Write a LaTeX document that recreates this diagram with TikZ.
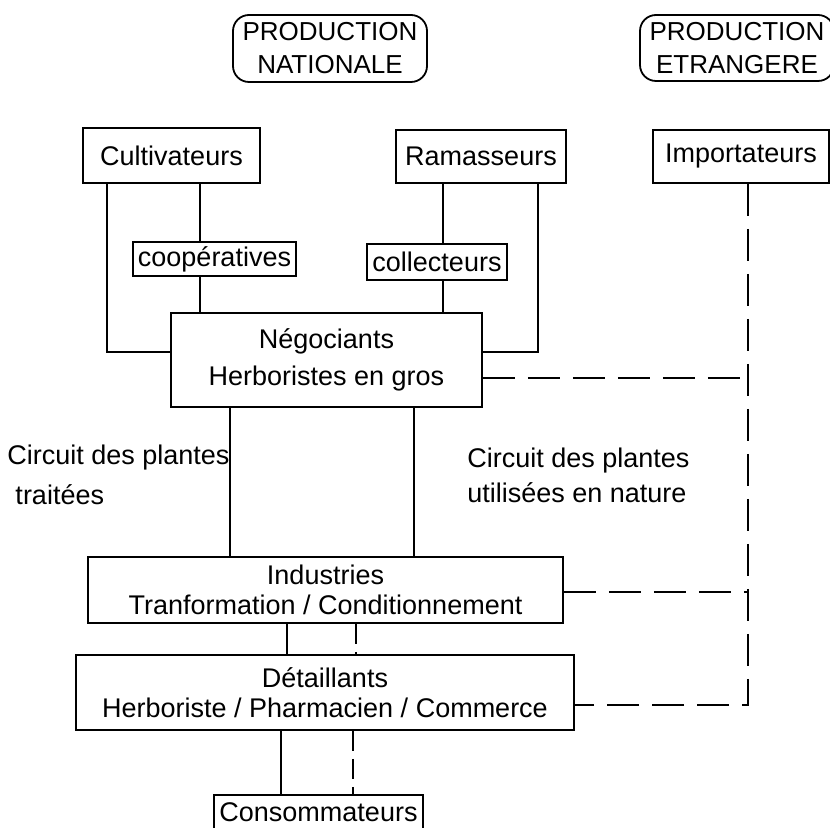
\documentclass[tikz,border=0pt]{standalone}
\usepackage{fontspec}
\setmainfont{Liberation Sans}
\usepackage{tikz}

\begin{document}
\begin{tikzpicture}[
    x=0.5pt, y=-0.5pt,
    every node/.style={font=\fontsize{13.5}{16}\selectfont},
    sz/.style 2 args={minimum width=#1*0.5pt, minimum height=#2*0.5pt},
    box/.style={draw, line width=0.9pt, inner sep=0pt, align=center},
    prod/.style={box, rounded corners=8pt, font=\fontsize{13}{16.5}\selectfont},
    link/.style={line width=0.9pt},
    imp/.style={line width=1pt, dash pattern=on 16pt off 6.5pt},
    natdash/.style={line width=0.9pt, dash pattern=on 10pt off 4pt}
    ]
    \useasboundingbox (0,0) rectangle (830,828);
    \node[prod, sz={194}{67}] (natl) at (330,48.5) {PRODUCTION\\NATIONALE};
    \node[prod, sz={194}{66}] (etr) at (737,48) {PRODUCTION\\ETRANGERE};
    \node[box, sz={177}{55}] (cult) at (171.5,155.5) {Cultivateurs};
    \node[box, sz={170}{53}] (ram) at (481,156.5) {Ramasseurs};
    \node[box, sz={176}{53}] (imp) at (741,156.5) {Importateurs};
    \node[box, sz={163}{34}] (coop) at (214.5,259) {coopératives};
    \node[box, sz={140}{36}] (coll) at (437,262) {collecteurs};
    \node[box, sz={311}{94}, font=\fontsize{13.5}{18.5}\selectfont] (nego) at (326.5,360) {Négociants\\Herboristes en gros};
    \node[box, sz={475}{66}, font=\fontsize{13.5}{15}\selectfont] (ind) at (325.5,590) {Industries\\Tranformation / Conditionnement};
    \node[box, sz={498}{75}, font=\fontsize{13.5}{15}\selectfont] (det) at (325,692.5) {Détaillants\\Herboriste / Pharmacien / Commerce};
    \node[box, sz={209}{35}] (cons) at (318.5,812.5) {Consommateurs};
    \node[align=left, anchor=west, inner sep=0pt, font=\fontsize{13.5}{20}\selectfont] (trt) at (7,475) {Circuit des plantes\\\hspace*{0.3em}traitées};
    \node[align=left, anchor=west, inner sep=0pt, font=\fontsize{13.5}{17.5}\selectfont] (nat) at (467,475.5) {Circuit des plantes\\utilisées en nature};
    \coordinate (trunk) at ([xshift=3.5pt]imp.south);
    \draw[link] ([xshift=12.5pt]cult.south west) |- ([yshift=4pt]nego.west);
    \draw[link] ([xshift=14.25pt]cult.south) -- ([xshift=14.25pt]cult.south |- coop.north);
    \draw[link] ([xshift=-7.25pt]coop.south) -- ([xshift=-7.25pt]coop.south |- nego.north);
    \draw[link] ([xshift=3pt]coll.north) -- ([xshift=3pt]coll.north |- ram.south);
    \draw[link] ([xshift=3pt]coll.south) -- ([xshift=3pt]coll.south |- nego.north);
    \draw[link] ([xshift=28.5pt]ram.south) |- ([yshift=4pt]nego.east);
    \draw[imp] (trunk) |- ([yshift=-6.25pt]det.east);
    \draw[imp] ([yshift=-9pt]nego.east) -- ([yshift=-9pt]nego.east -| trunk);
    \draw[imp] ([yshift=-1pt]ind.east) -- ([yshift=-1pt]ind.east -| trunk);
    \draw[link] ([xshift=-48.25pt]nego.south) -- ([xshift=-48.25pt]nego.south |- ind.north);
    \draw[link] ([xshift=43.75pt]nego.south) -- ([xshift=43.75pt]nego.south |- ind.north);
    \draw[link] ([xshift=-19.25pt]ind.south) -- ([xshift=-19.25pt]ind.south |- det.north);
    \draw[natdash] ([xshift=15.25pt]ind.south) -- ([xshift=15.25pt]ind.south |- det.north);
    \draw[link] ([xshift=-22pt]det.south) -- ([xshift=-22pt]det.south |- cons.north);
    \draw[natdash] ([xshift=14pt]det.south) -- ([xshift=14pt]det.south |- cons.north);
\end{tikzpicture}
\end{document}
